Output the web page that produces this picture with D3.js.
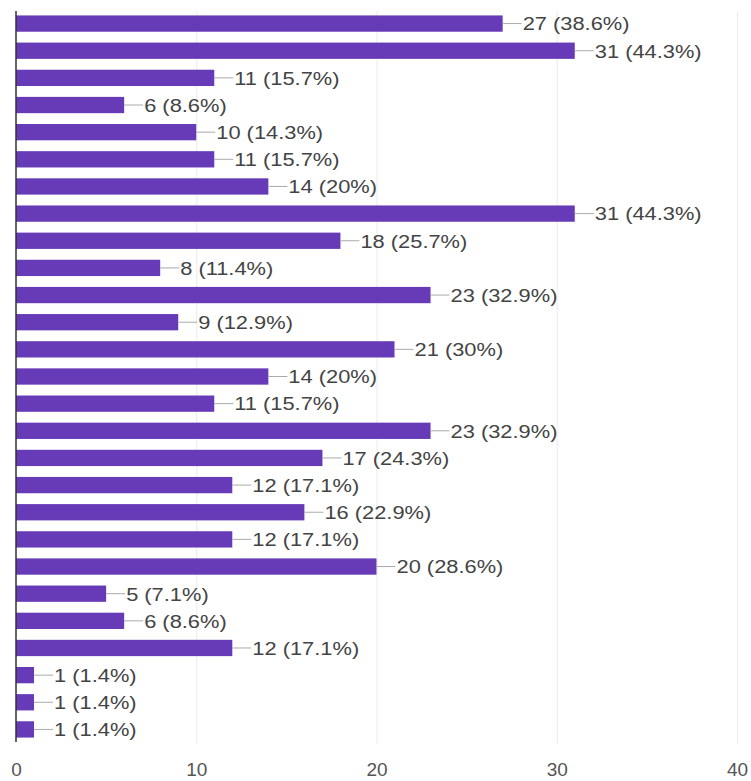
<!DOCTYPE html>
<html><head><meta charset="utf-8">
<script src="https://cdn.jsdelivr.net/npm/d3@7"></script>
<style>html,body{margin:0;padding:0;background:#fff;}svg{display:block;}</style>
</head><body>
<svg id="chart" width="751" height="781"></svg>
<script>
const categories = d3.range(1, 28).map(i => "Item " + i);
const values = [27,31,11,6,10,11,14,31,18,8,23,9,21,14,11,23,17,12,16,12,20,5,6,12,1,1,1];
const percents = ["38.6%","44.3%","15.7%","8.6%","14.3%","15.7%","20%","44.3%","25.7%","11.4%","32.9%","12.9%","30%","20%","15.7%","32.9%","24.3%","17.1%","22.9%","17.1%","28.6%","7.1%","8.6%","17.1%","1.4%","1.4%","1.4%"];
const xTicks = [0,10,20,30,40];

const svg = d3.select("#chart");
const font = "Arial, 'Liberation Sans', sans-serif";
const x = d3.scaleLinear().domain([0,40]).range([16,737]);
const y = d3.scaleBand().domain(categories).range([10,743]).paddingInner(0.4).paddingOuter(0.2);

// gridlines
svg.append("g").selectAll("line").data(xTicks.slice(1)).join("line")
  .attr("x1", d => x(d)+0.5).attr("x2", d => x(d)+0.5)
  .attr("y1", 11).attr("y2", 744)
  .attr("stroke", "#ebebeb").attr("stroke-width", 1);

// bars
svg.append("g").selectAll("rect").data(values).join("rect")
  .attr("x", x(0)).attr("y", (d,i) => y(categories[i]))
  .attr("width", d => x(d)-x(0)).attr("height", y.bandwidth())
  .attr("fill", "#673ab7");

// leader lines
svg.append("g").selectAll("line").data(values).join("line")
  .attr("x1", d => x(d)).attr("x2", d => x(d)+19)
  .attr("y1", (d,i) => y(categories[i]) + y.bandwidth()/2)
  .attr("y2", (d,i) => y(categories[i]) + y.bandwidth()/2)
  .attr("stroke", "#aaaaaa").attr("stroke-width", 1);

// labels
svg.append("g").selectAll("text").data(values).join("text")
  .attr("transform", (d,i) => `translate(${x(d)+20},${y(categories[i]) + y.bandwidth()/2}) scale(1.15,1)`)
  .attr("dy", "0.36em")
  .attr("font-family", font).attr("font-size", 19).attr("fill", "#444")
  .text((d,i) => d + " (" + percents[i] + ")");

// baseline axis
svg.append("line").attr("x1", x(0)).attr("x2", x(0)).attr("y1", 11).attr("y2", 742)
  .attr("stroke", "#333").attr("stroke-width", 1.5);

// x axis
const xAxis = d3.axisBottom(x).tickValues(xTicks).tickSize(0).tickPadding(0).tickFormat(d3.format("d"));
const gx = svg.append("g").attr("transform", "translate(0,762)").call(xAxis);
gx.select(".domain").remove();
gx.selectAll("text").attr("font-family", font).attr("font-size", 19).attr("fill", "#555").attr("dy", "0.71em");
</script>
</body></html>
